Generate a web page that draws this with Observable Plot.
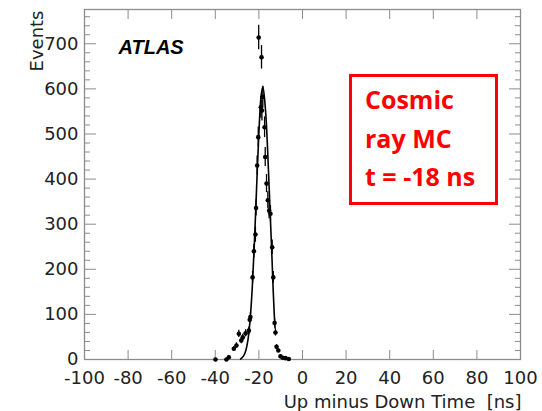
<!DOCTYPE html>
<html><head><meta charset="utf-8">
<script src="https://cdn.jsdelivr.net/npm/d3@7"></script>
<script src="https://cdn.jsdelivr.net/npm/@observablehq/plot@0.6"></script>
<style>
body{margin:0;background:#fff;}
#wrap{position:relative;width:542px;height:411px;overflow:hidden;}
#box{position:absolute;left:349px;top:74px;width:149px;height:131px;box-sizing:border-box;border:3px solid #f00;
  font-family:"Open Sans",sans-serif;font-weight:700;font-size:25px;color:#f00;line-height:38.5px;padding:3px 0 0 13px;white-space:nowrap;}
</style></head><body><div id="wrap"></div>
<script>
// measured points (Up minus Down time [ns], events, error)
const pointX = [-39.9,-34.9,-33.8,-31.5,-30.3,-29.2,-28.1,-27.4,-26.1,-24.6,-24.2,-23.9,-22.9,-22.3,-21.6,-21.3,-20.8,-20.3,-20.1,-19.1,-18.8,-18.6,-18.2,-17.4,-17.1,-16.5,-15.9,-15.3,-14.7,-13.9,-13.4,-12.8,-12.4,-11.9,-11.1,-10.1,-9.0,-7.8,-6.3];
const pointY = [0,0,5,24,31,57,42,49,58,64,88,94,182,240,277,336,430,493,714,559,670,552,582,515,449,390,353,330,323,249,182,81,60,28,20,7,4,3,1];
const pointErr = [1,1,2,5,6,8,7,7,8,8,9,10,13,15,17,18,21,22,27,24,26,23,24,23,21,20,19,18,18,16,13,9,8,5,4,3,2,2,1];
// fitted curve
const fitX = [-28.4,-27,-26,-25,-24,-23,-22,-21,-20,-19,-18.2,-17,-16,-15,-14,-13.5,-13,-12.6];
const fitY = [1,8,20,44,90,163,266,388,503,584,605,555,465,345,225,160,105,70];
// axis ticks
const xTicks = [-100,-80,-60,-40,-20,0,20,40,60,80,100];
const yTicks = [0,100,200,300,400,500,600,700];
const yMinor = [20,40,60,80,120,140,160,180,220,240,260,280,320,340,360,380,420,440,460,480,520,540,560,580,620,640,660,680,720,740,760];

const points = pointX.map((x,i)=>({x, y: pointY[i], e: pointErr[i]}));
const fit = fitX.map((x,i)=>({x, y: fitY[i]}));
const axisGray = "#8c8c8c";
const fmt = d => String(d);

const chart = Plot.plot({
  width: 542, height: 411,
  marginLeft: 84, marginRight: 22, marginTop: 9, marginBottom: 52,
  style: {fontFamily: "'DejaVu Sans', sans-serif", fontSize: "18px", color: "#222", background: "#fff"},
  x: {domain: [-100, 100]},
  y: {domain: [0, 776]},
  marks: [
    Plot.frame({stroke: axisGray, strokeWidth: 1.3}),
    // y labels
    Plot.axisY({ticks: yTicks, tickSize: 0, tickPadding: 6, tickFormat: fmt, label: null, fill: "#222"}),
    // x labels
    Plot.axisX({ticks: xTicks, tickSize: 0, tickPadding: 12, tickFormat: fmt, label: null, fill: "#222"}),
    // inward ticks
    Plot.axisY({ticks: yTicks, anchor: "left", tickSize: -12, text: null, label: null, stroke: axisGray}),
    Plot.axisY({ticks: yMinor, anchor: "left", tickSize: -6, text: null, label: null, stroke: axisGray}),
    Plot.axisY({ticks: yTicks, anchor: "right", tickSize: -12, text: null, label: null, stroke: axisGray}),
    Plot.axisY({ticks: yMinor, anchor: "right", tickSize: -6, text: null, label: null, stroke: axisGray}),
    Plot.axisX({ticks: xTicks, anchor: "bottom", tickSize: -9, text: null, label: null, stroke: axisGray}),
    Plot.axisX({ticks: xTicks, anchor: "top", tickSize: -9, text: null, label: null, stroke: axisGray}),
    // fit curve
    Plot.line(fit, {x: "x", y: "y", stroke: "#000", strokeWidth: 1.6, curve: "catmull-rom"}),
    // error bars and points
    Plot.ruleX(points, {x: "x", y1: d => Math.max(0, d.y - d.e), y2: d => d.y + d.e, stroke: "#000", strokeWidth: 1.3}),
    Plot.dot(points, {x: "x", y: "y", r: 2.3, fill: "#000", stroke: "none"}),
    // titles
    Plot.text(["ATLAS"], {frameAnchor: "top-left", dx: 34, dy: 44, textAnchor: "start", lineAnchor: "bottom", fontFamily: "'Liberation Sans', Arial, sans-serif", fontWeight: "bold", fontStyle: "italic", fontSize: 20, fill: "#000"}),
    Plot.text(["Events"], {frameAnchor: "top-left", dx: -54, dy: 1, rotate: -90, textAnchor: "end", fontSize: 18, fill: "#222"}),
    Plot.text(["Up minus Down Time  [ns]"], {frameAnchor: "bottom-right", dx: 1, dy: 48, textAnchor: "end", lineAnchor: "bottom", fontSize: 18, fill: "#222"})
  ]
});
const wrap = document.getElementById("wrap");
wrap.appendChild(chart);
const box = document.createElement("div");
box.id = "box";
box.innerHTML = "Cosmic<br>ray MC<br>t = -18 ns";
wrap.appendChild(box);
</script>
</body></html>
